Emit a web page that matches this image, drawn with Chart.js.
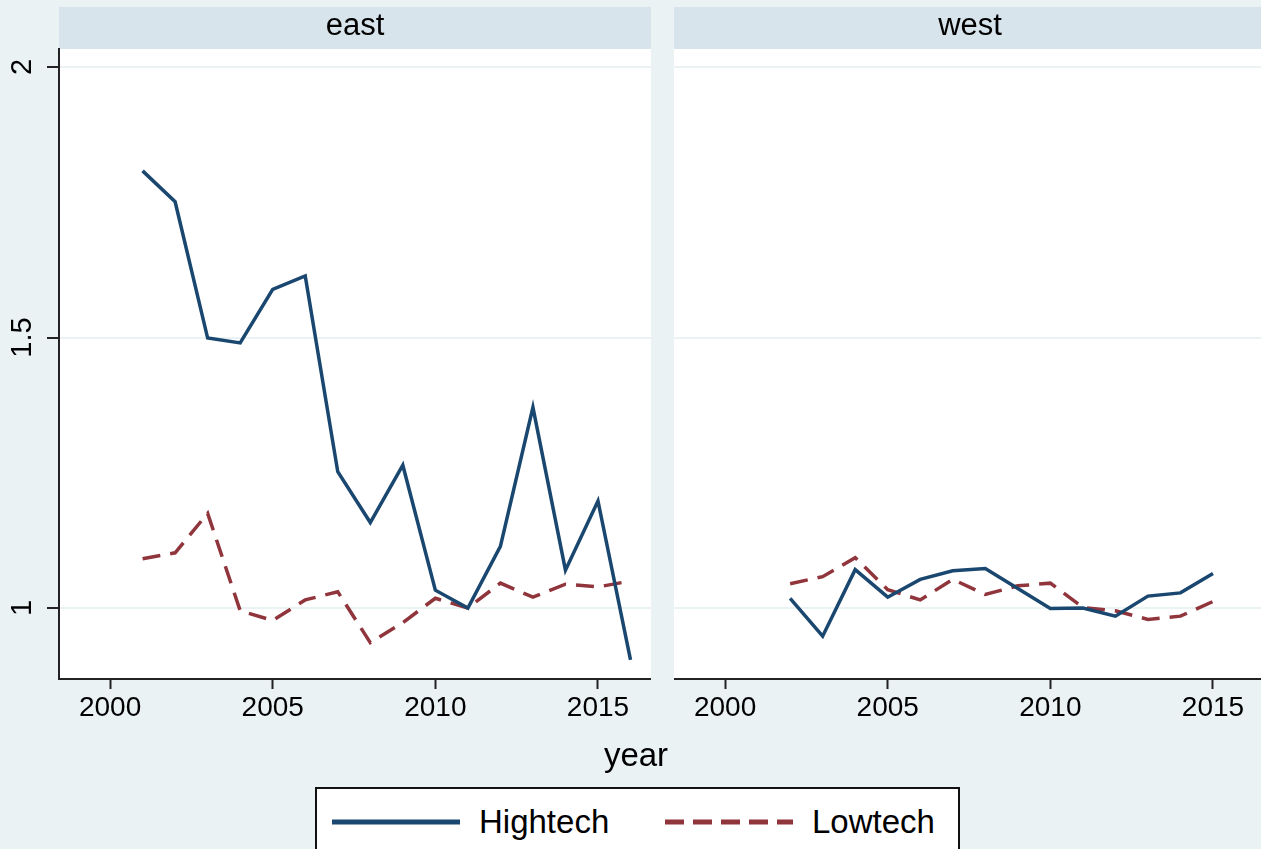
<!DOCTYPE html>
<html>
<head>
<meta charset="utf-8">
<script src="https://cdn.jsdelivr.net/npm/chart.js@4.4.1/dist/chart.umd.min.js"></script>
<style>
  html, body { margin: 0; padding: 0; width: 1261px; height: 849px; overflow: hidden; background: #eaf2f3; font-family: "Liberation Sans", Arial, sans-serif; }
  canvas { position: absolute; top: 0; }
  #east { left: 0; }
  #west { left: 674px; }
  #xtitle { position: absolute; left: 536px; width: 200px; top: 736px; text-align: center; font-size: 33px; color: #000; }
  #legend { position: absolute; left: 315px; top: 787px; width: 641px; height: 80px; background: #fff; border: 2px solid #111; }
  .item { position: absolute; top: 14px; font-size: 33px; color: #000; }
  .item svg { position: absolute; top: 0; }
</style>
</head>
<body>
<canvas id="east" width="651" height="740"></canvas>
<canvas id="west" width="592" height="740"></canvas>
<div id="xtitle">year</div>
<div id="legend"></div>
<script>
// ---- data ----
const panelNames = ['east', 'west'];
const seriesNames = ['Hightech', 'Lowtech'];

const yearsEast = [2001, 2002, 2003, 2004, 2005, 2006, 2007, 2008, 2009, 2010, 2011, 2012, 2013, 2014, 2015, 2016];
const eastHigh  = [1.808, 1.751, 1.499, 1.490, 1.589, 1.614, 1.252, 1.158, 1.264, 1.033, 1.000, 1.114, 1.371, 1.070, 1.198, 0.904];
const eastLow   = [1.091, 1.102, 1.175, 0.995, 0.977, 1.015, 1.030, 0.936, 0.973, 1.018, 1.000, 1.046, 1.020, 1.044, 1.039, 1.050];

const yearsWest = [2002, 2003, 2004, 2005, 2006, 2007, 2008, 2009, 2010, 2011, 2012, 2013, 2014, 2015];
const westHigh  = [1.018, 0.948, 1.071, 1.020, 1.053, 1.069, 1.073, 1.036, 0.999, 1.000, 0.985, 1.022, 1.028, 1.064];
const westLow   = [1.045, 1.058, 1.093, 1.034, 1.015, 1.053, 1.025, 1.041, 1.046, 1.001, 0.995, 0.979, 0.985, 1.012];

const xTickValues = [2000, 2005, 2010, 2015];
const yTickValues = [1, 1.5, 2];
const yTickLabels = ['1', '1.5', '2'];

// ---- styling ----
const NAVY = '#1a476f';
const MAROON = '#90353b';
const FONT = '"Liberation Sans", Arial, sans-serif';
const DASH = [18, 10];
const LINE_W = 3.5;
const X_MIN = 1998.43, X_MAX = 2016.63;
const Y_MIN = 0.8688, Y_MAX = 2.0333;

const toPoints = (xs, ys) => xs.map((x, i) => ({ x: x, y: ys[i] }));

// white plot region and the grey-blue title strip above it
const panelPlugin = {
  id: 'panel',
  beforeDraw(chart, args, opts) {
    const { ctx, chartArea: a } = chart;
    ctx.save();
    ctx.fillStyle = '#ffffff';
    ctx.fillRect(a.left, a.top, a.right - a.left, a.bottom - a.top);
    ctx.fillStyle = '#d8e4eb';
    ctx.fillRect(a.left, 7, a.right - a.left, a.top - 7);
    ctx.fillStyle = '#000';
    ctx.font = '31px ' + FONT;
    ctx.textAlign = 'center';
    ctx.textBaseline = 'middle';
    ctx.fillText(opts.title, (a.left + a.right) / 2, 26);
    ctx.restore();
  }
};

// vertical tick labels on the left axis
const yLabelPlugin = {
  id: 'ylabels',
  afterDraw(chart, args, opts) {
    if (!opts.show) return;
    const { ctx } = chart;
    const ys = chart.scales.y;
    ctx.save();
    ctx.fillStyle = '#000';
    ctx.font = '29px ' + FONT;
    ctx.textAlign = 'center';
    ctx.textBaseline = 'middle';
    yTickValues.forEach((v, i) => {
      const py = ys.getPixelForValue(v);
      ctx.save();
      ctx.translate(23, py);
      ctx.rotate(-Math.PI / 2);
      ctx.fillText(yTickLabels[i], 0, 0);
      ctx.restore();
    });
    ctx.restore();
  }
};

function makePanel(id, name, years, high, low, withAxis) {
  return new Chart(document.getElementById(id), {
    type: 'line',
    data: {
      datasets: [
        { label: seriesNames[0], data: toPoints(years, high), borderColor: NAVY, borderWidth: LINE_W, pointRadius: 0, tension: 0, fill: false },
        { label: seriesNames[1], data: toPoints(years, low), borderColor: MAROON, borderWidth: LINE_W, borderDash: DASH, pointRadius: 0, tension: 0, fill: false }
      ]
    },
    options: {
      responsive: false,
      animation: false,
      layout: { padding: { top: 49, left: 0, right: 0, bottom: 0 } },
      plugins: {
        legend: { display: false },
        tooltip: { enabled: false },
        panel: { title: name },
        ylabels: { show: withAxis }
      },
      scales: {
        x: {
          type: 'linear',
          min: X_MIN,
          max: X_MAX,
          afterBuildTicks: s => { s.ticks = xTickValues.map(v => ({ value: v })); },
          afterFit: s => { s.height = 61; },
          grid: { drawOnChartArea: false, drawTicks: true, tickLength: 10, tickColor: '#222', tickWidth: 2 },
          border: { display: true, color: '#222', width: 2 },
          ticks: { color: '#000', font: { family: FONT, size: 28 }, padding: 2, maxRotation: 0, autoSkip: false, callback: v => String(v) }
        },
        y: {
          type: 'linear',
          min: Y_MIN,
          max: Y_MAX,
          afterBuildTicks: s => { s.ticks = yTickValues.map(v => ({ value: v })); },
          afterFit: s => { s.width = withAxis ? 59 : 0; },
          grid: { color: '#eaf2f3', lineWidth: 2, drawTicks: withAxis, tickLength: 12, tickColor: '#222', tickWidth: 2 },
          border: { display: withAxis, color: '#222', width: 2 },
          ticks: { display: false }
        }
      }
    },
    plugins: [panelPlugin, yLabelPlugin]
  });
}

makePanel('east', panelNames[0], yearsEast, eastHigh, eastLow, true);
makePanel('west', panelNames[1], yearsWest, westHigh, westLow, false);

// legend row below the panels
const legend = document.getElementById('legend');
const legendItems = [
  { left: 15, text: seriesNames[0], color: NAVY, dash: '' },
  { left: 348, text: seriesNames[1], color: MAROON, dash: '19 9' }
];
legendItems.forEach(it => {
  const d = document.createElement('div');
  d.className = 'item';
  d.style.left = it.left + 'px';
  d.innerHTML =
    '<svg width="130" height="40" style="left:0"><line x1="0" y1="19" x2="128" y2="19" stroke="' + it.color +
    '" stroke-width="5" stroke-dasharray="' + it.dash + '"/></svg>' +
    '<span style="position:absolute;left:147px;top:0;white-space:nowrap">' + it.text + '</span>';
  legend.appendChild(d);
});
</script>
</body>
</html>
